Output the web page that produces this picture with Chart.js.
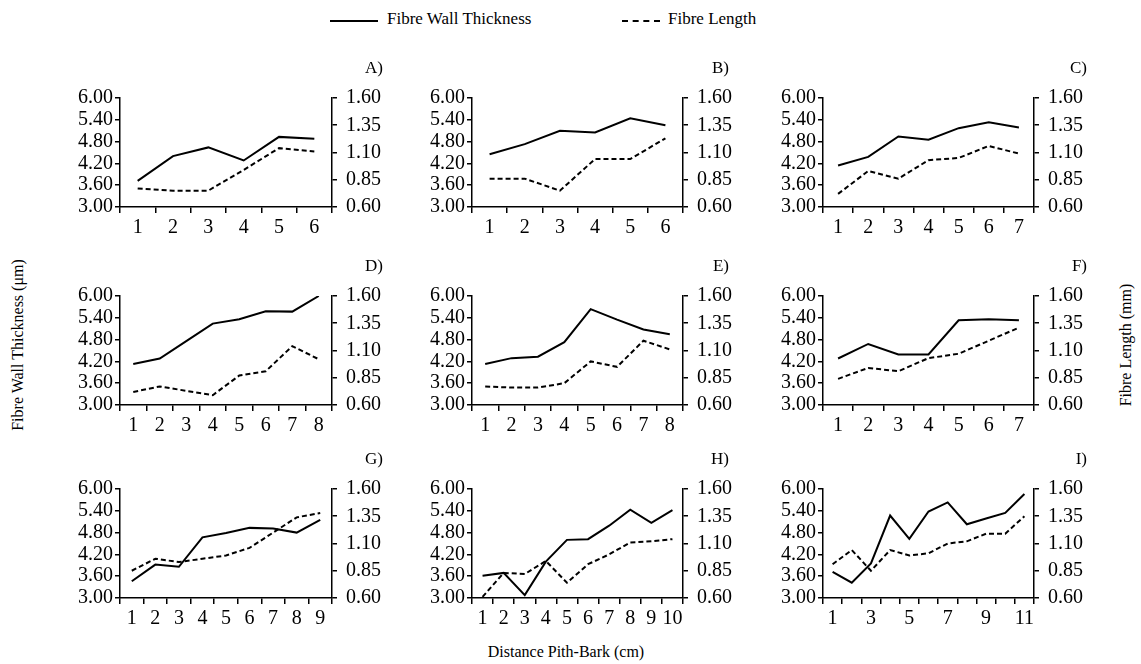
<!DOCTYPE html>
<html>
<head>
<meta charset="utf-8">
<script src="https://cdn.jsdelivr.net/npm/chart.js@4"></script>
<style>
  body { margin: 0; background: #fff; font-family: "Liberation Serif", serif; color: #000; }
  #wrap { position: relative; width: 1141px; height: 664px; overflow: hidden; }
  .panel { position: absolute; }
  .lbl { position: absolute; font-size: 17px; white-space: nowrap; }
  .key { position: absolute; top: 20px; width: 48px; border-top: 2.5px solid #000; }
</style>
</head>
<body>
<div id="wrap">
  <div class="key" style="left:330px;"></div>
  <div class="lbl" style="left:387px; top:9px;">Fibre Wall Thickness</div>
  <div class="key" style="left:622px; width:38px; border-top-style:dashed; border-top-width:2px;"></div>
  <div class="lbl" style="left:668px; top:9px;">Fibre Length</div>

  <div class="lbl" style="left:18px; top:345px; font-size:16px; transform:translate(-50%,-50%) rotate(-90deg);">Fibre Wall Thickness (μm)</div>
  <div class="lbl" style="left:1126px; top:345px; font-size:16px; transform:translate(-50%,-50%) rotate(-90deg);">Fibre Length (mm)</div>
  <div class="lbl" style="left:566px; top:652px; font-size:16px; transform:translate(-50%,-50%);">Distance Pith-Bark (cm)</div>
</div>

<script>
// panel letters
const panelNames = ['A)', 'B)', 'C)', 'D)', 'E)', 'F)', 'G)', 'H)', 'I)'];

// Fibre wall thickness (µm), left axis
const wallA = [3.72, 4.40, 4.64, 4.28, 4.93, 4.88];
const wallB = [4.45, 4.73, 5.10, 5.05, 5.44, 5.25];
const wallC = [4.14, 4.38, 4.94, 4.85, 5.17, 5.33, 5.19];
const wallD = [4.13, 4.28, 4.76, 5.24, 5.36, 5.58, 5.57, 6.00];
const wallE = [4.13, 4.29, 4.33, 4.73, 5.64, 5.35, 5.08, 4.95];
const wallF = [4.28, 4.68, 4.39, 4.39, 5.33, 5.36, 5.33];
const wallG = [3.46, 3.92, 3.86, 4.67, 4.79, 4.93, 4.91, 4.80, 5.15];
const wallH = [3.61, 3.69, 3.08, 4.00, 4.60, 4.62, 4.99, 5.43, 5.07, 5.42];
const wallI = [3.72, 3.42, 3.95, 5.27, 4.63, 5.38, 5.63, 5.03, 5.19, 5.34, 5.86];

// Fibre length (mm), right axis
const lenA = [0.77, 0.75, 0.75, 0.94, 1.14, 1.11];
const lenB = [0.86, 0.86, 0.75, 1.04, 1.04, 1.23];
const lenC = [0.72, 0.93, 0.86, 1.03, 1.05, 1.16, 1.09];
const lenD = [0.72, 0.77, 0.73, 0.69, 0.87, 0.91, 1.14, 1.02];
const lenE = [0.77, 0.76, 0.76, 0.80, 1.00, 0.95, 1.19, 1.11];
const lenF = [0.84, 0.94, 0.91, 1.03, 1.07, 1.19, 1.31];
const lenG = [0.85, 0.96, 0.93, 0.96, 0.99, 1.06, 1.20, 1.34, 1.38];
const lenH = [0.61, 0.83, 0.82, 0.94, 0.74, 0.91, 1.00, 1.11, 1.12, 1.14];
const lenI = [0.91, 1.04, 0.85, 1.04, 0.99, 1.01, 1.10, 1.12, 1.19, 1.19, 1.35];

const wallTicks = [3.00, 3.60, 4.20, 4.80, 5.40, 6.00];
const lenTicks = [0.60, 0.85, 1.10, 1.35, 1.60];

const walls = [wallA, wallB, wallC, wallD, wallE, wallF, wallG, wallH, wallI];
const lens = [lenA, lenB, lenC, lenD, lenE, lenF, lenG, lenH, lenI];

// layout
const colLeft = [120, 472, 823];
const colWidth = [212, 211, 211];
const rowTop = [98, 296, 489];
const plotH = 109;
const labelRight = [383, 729, 1087];
const AXW = 60, PADT = 24, XH = 38;

const wrap = document.getElementById('wrap');
const font = { family: '"Liberation Serif", serif', size: 20 };

function yAxis(pos, ticks, pad) {
    return {
        position: pos,
        min: ticks[0],
        max: ticks[ticks.length - 1],
        afterBuildTicks: s => { s.ticks = ticks.map(v => ({ value: v })); },
        afterFit: s => { s.width = AXW; },
        border: { display: true, color: '#000', width: 1.5 },
        grid: { drawOnChartArea: false, tickLength: 5, color: '#000', lineWidth: 1.5 },
        ticks: { color: '#000', font, padding: pad, autoSkip: false, callback: v => v.toFixed(2) }
    };
}

panelNames.forEach((name, i) => {
    const r = Math.floor(i / 3), c = i % 3;
    const n = walls[i].length;
    const cats = Array.from({ length: n }, (_, k) => String(k + 1));

    const box = document.createElement('div');
    box.className = 'panel';
    box.style.left = (colLeft[c] - AXW) + 'px';
    box.style.top = (rowTop[r] - PADT) + 'px';
    box.style.width = (colWidth[c] + 2 * AXW) + 'px';
    box.style.height = (plotH + PADT + XH) + 'px';
    const cv = document.createElement('canvas');
    box.appendChild(cv);
    wrap.appendChild(box);

    const tag = document.createElement('div');
    tag.className = 'lbl';
    tag.textContent = name;
    tag.style.right = (1141 - labelRight[c]) + 'px';
    tag.style.top = (rowTop[r] - 34 - 6) + 'px';
    wrap.appendChild(tag);

    new Chart(cv, {
        type: 'line',
        data: {
            labels: cats,
            datasets: [
                { label: 'Fibre Wall Thickness', data: walls[i], yAxisID: 'y',
                  borderColor: '#000', borderWidth: 2, pointRadius: 0, tension: 0 },
                { label: 'Fibre Length', data: lens[i], yAxisID: 'y1',
                  borderColor: '#000', borderWidth: 2, borderDash: [5, 3], pointRadius: 0, tension: 0 }
            ]
        },
        options: {
            responsive: true,
            maintainAspectRatio: false,
            animation: false,
            layout: { padding: { top: PADT, left: 0, right: 0, bottom: 0 } },
            plugins: { legend: { display: false }, tooltip: { enabled: false } },
            scales: {
                x: {
                    offset: true,
                    afterFit: s => { s.height = XH; },
                    border: { display: true, color: '#000', width: 1.5 },
                    grid: { offset: true, drawOnChartArea: false, tickLength: 6, color: '#000', lineWidth: 1.5 },
                    ticks: {
                        color: '#000', font, padding: 3, autoSkip: false, maxRotation: 0,
                        callback: (v, k) => (n > 10 && k % 2 === 1) ? '' : cats[k]
                    }
                },
                y: yAxis('left', wallTicks, 2),
                y1: yAxis('right', lenTicks, 9)
            }
        }
    });
});
</script>
</body>
</html>
